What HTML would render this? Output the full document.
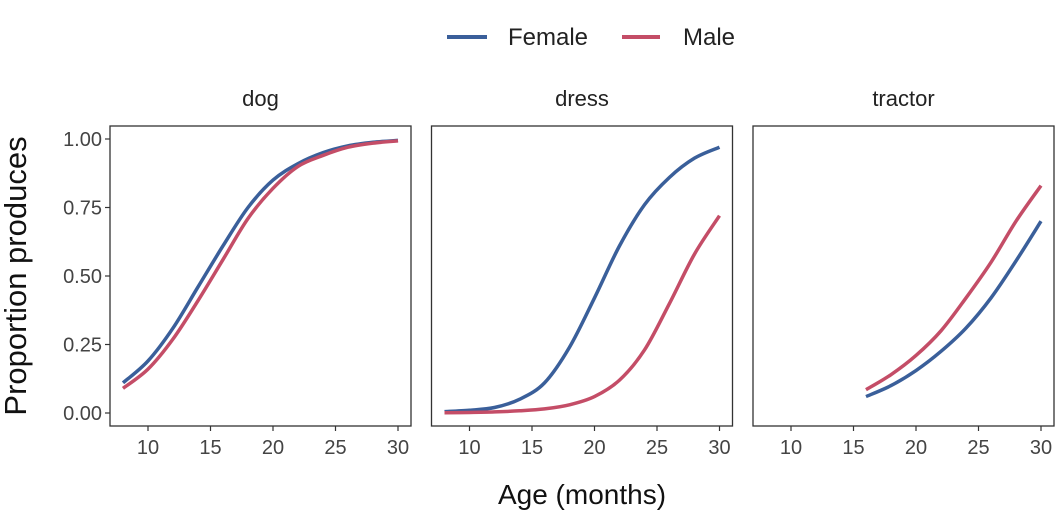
<!DOCTYPE html>
<html><head><meta charset="utf-8"><style>
body{margin:0;background:#fff}
svg{display:block;font-family:"Liberation Sans",sans-serif}
</style></head><body>
<svg id="chart" width="1056" height="528" viewBox="0 0 1056 528">
<g>
 <line x1="447" y1="37" x2="487" y2="37" stroke="#3A5F9A" stroke-width="4"/>
 <text x="508" y="45" font-size="24" fill="#222">Female</text>
 <line x1="622" y1="37" x2="660" y2="37" stroke="#C44D67" stroke-width="4"/>
 <text x="683" y="45" font-size="24" fill="#222">Male</text>
</g>
<text x="15" y="276" font-size="31" fill="#111" text-anchor="middle" transform="rotate(-90 15 276) translate(0 11)">Proportion produces</text>
<text x="582" y="504" font-size="28" fill="#111" text-anchor="middle">Age (months)</text>
<g id="panels"></g>
</svg>
<script>
const panels = ["dog","dress","tractor"];
const xTicks = [10,15,20,25,30];
const yTicks = [0,0.25,0.5,0.75,1];
const yTickLabels = ["0.00","0.25","0.50","0.75","1.00"];
const dogAges = [8,10,12,14,16,18,20,22,24,26,28,30];
const dogFemale = [0.11,0.19,0.31,0.46,0.61,0.75,0.85,0.91,0.95,0.975,0.988,0.995];
const dogMale = [0.09,0.16,0.27,0.41,0.56,0.71,0.82,0.90,0.94,0.97,0.985,0.993];
const dressAges = [8,10,12,14,16,18,20,22,24,26,28,30];
const dressFemale = [0.005,0.01,0.02,0.05,0.11,0.24,0.42,0.61,0.76,0.86,0.93,0.97];
const dressMale = [0.001,0.002,0.004,0.008,0.015,0.03,0.06,0.12,0.23,0.40,0.58,0.72];
const tractorAges = [16,18,20,22,24,26,28,30];
const tractorFemale = [0.06,0.10,0.155,0.225,0.31,0.42,0.555,0.70];
const tractorMale = [0.085,0.14,0.21,0.30,0.42,0.55,0.70,0.83];

const series = {
 dog:[[dogAges,dogFemale,"female"],[dogAges,dogMale,"male"]],
 dress:[[dressAges,dressFemale,"female"],[dressAges,dressMale,"male"]],
 tractor:[[tractorAges,tractorFemale,"female"],[tractorAges,tractorMale,"male"]]
};
const colors={female:"#3A5F9A",male:"#C44D67"};
const NS="http://www.w3.org/2000/svg";
const g=document.getElementById("panels");
const pTop=126,pBot=426,pW=301;
const yScale=v=>413-v*274;
function mk(tag,attrs,parent){const e=document.createElementNS(NS,tag);for(const k in attrs)e.setAttribute(k,attrs[k]);parent.appendChild(e);return e;}
function smooth(pts){
 let d="M"+pts[0][0]+","+pts[0][1];
 for(let i=0;i<pts.length-1;i++){
  const p0=pts[Math.max(0,i-1)],p1=pts[i],p2=pts[i+1],p3=pts[Math.min(pts.length-1,i+2)];
  const c1=[p1[0]+(p2[0]-p0[0])/6,p1[1]+(p2[1]-p0[1])/6];
  const c2=[p2[0]-(p3[0]-p1[0])/6,p2[1]-(p3[1]-p1[1])/6];
  d+=" C"+c1[0]+","+c1[1]+" "+c2[0]+","+c2[1]+" "+p2[0]+","+p2[1];
 }
 return d;
}
panels.forEach((name,pi)=>{
 const left=110+pi*321.5;
 const xScale=v=>left+38+(v-10)*12.5;
 const pg=mk("g",{},g);
 
 
 const t=mk("text",{x:left+pW/2,y:106,"font-size":22,fill:"#222","text-anchor":"middle"},pg);
 t.textContent=name;
 
 
 const r=mk("rect",{x:left,y:pTop,width:pW,height:pBot-pTop,fill:"#fff",stroke:"#333","stroke-width":1.3},pg);
 
 
 xTicks.forEach(v=>{
  const x=xScale(v);
  mk("line",{x1:x,y1:pBot,x2:x,y2:pBot+5,stroke:"#333","stroke-width":1.2},pg);
  const tl=mk("text",{x:x,y:pBot+28,"font-size":20,fill:"#444","text-anchor":"middle"},pg);
  tl.textContent=v;
  
  
 });
 if(pi===0){
  yTicks.forEach((v,i)=>{
   const y=yScale(v);
   mk("line",{x1:left-5,y1:y,x2:left,y2:y,stroke:"#333","stroke-width":1.2},pg);
   const tl=mk("text",{x:left-8,y:y+7,"font-size":20,fill:"#444","text-anchor":"end"},pg);
   tl.textContent=yTickLabels[i];
   
   
  });
 }
 series[name].forEach(([ages,vals,sex])=>{
  const pts=ages.map((a,i)=>[xScale(a),yScale(vals[i])]);
  const p=mk("path",{d:smooth(pts),fill:"none",stroke:colors[sex],"stroke-width":3.5},pg);
  
  
 });
});
</script>
</body></html>
